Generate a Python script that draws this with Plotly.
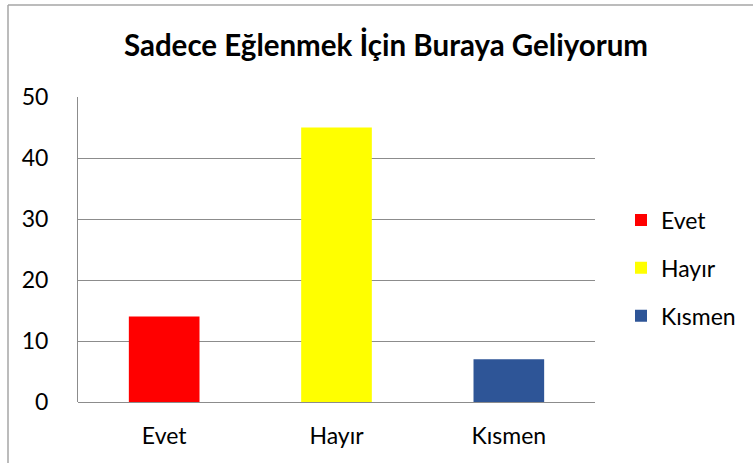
import plotly.graph_objects as go

categories = ["Evet", "Hayır", "Kısmen"]
values = [14, 45, 7]
colors = ["#FF0000", "#FFFF00", "#2E5597"]
title_text = "Sadece Eğlenmek İçin Buraya Geliyorum"
y_ticks = [0, 10, 20, 30, 40, 50]

W, H = 753, 463
L, R, T, B = 78, 158, 97, 61
pw, ph = W - L - R, H - T - B

def px_x(p):
    return (p - L) / pw

def px_y(p):
    return (H - B - p) / ph

fig = go.Figure()
for c, v, col in zip(categories, values, colors):
    fig.add_trace(go.Bar(x=[c], y=[v], name=c, marker=dict(color=col, line=dict(width=0)),
                         width=0.41, legendgroup=c))

font = "Lato, 'Open Sans', sans-serif"
fig.update_layout(
    width=W, height=H,
    margin=dict(l=L, r=R, t=T, b=B, pad=0, autoexpand=False),
    paper_bgcolor="white", plot_bgcolor="white",
    barmode="overlay",
    font=dict(family=font, size=23, color="#000000"),
    title=dict(text="<b>" + title_text + "</b>", x=(386) / W, xanchor="center",
               y=1 - 46 / H, yanchor="middle", font=dict(size=29.5, family=font, color="#000000")),
    showlegend=True,
    legend=dict(x=px_x(621), xanchor="left", y=px_y(268), yanchor="middle",
                font=dict(size=23, family=font), tracegroupgap=15, bgcolor="rgba(0,0,0,0)",
                itemclick=False),
    xaxis=dict(showgrid=False, showline=False, ticks="", ticklabelstandoff=18,
               tickfont=dict(size=23)),
    yaxis=dict(range=[0, 50], tickvals=y_ticks, showgrid=True, gridcolor="#8C8C8C", gridwidth=1,
               showline=True, linecolor="#8C8C8C", linewidth=1, zeroline=True,
               zerolinecolor="#8C8C8C", zerolinewidth=1, ticks="", ticklabelstandoff=24,
               tickfont=dict(size=23)),
    shapes=[
        dict(type="line", xref="paper", yref="paper", x0=px_x(8), x1=px_x(8), y0=px_y(H + 5), y1=px_y(5),
             line=dict(color="#A6A6A6", width=1.5)),
        dict(type="line", xref="paper", yref="paper", x0=px_x(8), x1=px_x(W + 5), y0=px_y(5), y1=px_y(5),
             line=dict(color="#A6A6A6", width=1.5)),
    ],
)

fig.write_html("out.html")
